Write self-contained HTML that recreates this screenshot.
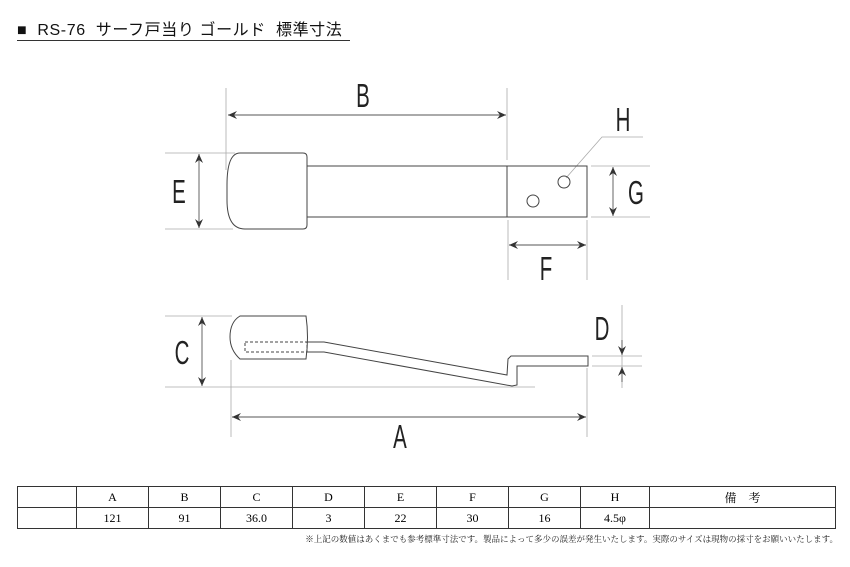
<!DOCTYPE html>
<html><head><meta charset="utf-8"><style>
body{margin:0;background:#fff;width:850px;height:567px;overflow:hidden;position:relative;font-family:"Liberation Sans","Noto Sans CJK JP",sans-serif}
.t{position:absolute;left:17px;top:22px;font-size:16px;color:#111;border-bottom:1px solid #333;width:333px;line-height:18px;letter-spacing:0.6px;white-space:nowrap}
table{position:absolute;left:17px;top:486px;border-collapse:collapse;font-family:"Liberation Serif","Noto Serif CJK SC",serif;font-size:12px}
td{border:1px solid #333;height:20px;padding:0;text-align:center}
.n{position:absolute;right:12px;top:533px;font-size:8.5px;font-family:"Noto Serif CJK SC",serif;color:#222}
</style></head><body>
<div class="t">■&nbsp; RS-76&nbsp; サーフ戸当り ゴールド&nbsp; 標準寸法</div>
<svg width="850" height="567" style="position:absolute;left:0;top:0">
<defs><marker id="a" markerWidth="10" markerHeight="8" refX="9" refY="4" orient="auto-start-reverse" markerUnits="userSpaceOnUse"><path d="M0,0 L9,4 L0,8 L3,4 Z" fill="#333"/></marker></defs>
<g stroke="#aaa" stroke-width="0.8" fill="none">
<line x1="226" y1="88" x2="226" y2="170"/><line x1="507" y1="88" x2="507" y2="160"/>
<line x1="165" y1="153" x2="235" y2="153"/><line x1="165" y1="229" x2="233" y2="229"/>
<line x1="591" y1="166" x2="650" y2="166"/><line x1="591" y1="217" x2="650" y2="217"/>
<line x1="508" y1="220" x2="508" y2="280"/><line x1="587" y1="220" x2="587" y2="280"/>
<polyline points="566,178 602,137 643,137"/>
<line x1="165" y1="316" x2="232" y2="316"/><line x1="165" y1="387" x2="535" y2="387"/>
<line x1="231" y1="360" x2="231" y2="437"/><line x1="587" y1="368" x2="587" y2="437"/>
<line x1="592" y1="356" x2="642" y2="356"/><line x1="592" y1="366" x2="642" y2="366"/>
<line x1="622" y1="305" x2="622" y2="388"/>
</g>
<g stroke="#555" stroke-width="0.9" fill="none" marker-start="url(#a)" marker-end="url(#a)">
<line x1="228" y1="115" x2="506" y2="115"/>
<line x1="199" y1="154" x2="199" y2="228"/>
<line x1="613" y1="167" x2="613" y2="216"/>
<line x1="509" y1="245" x2="586" y2="245"/>
<line x1="202" y1="317" x2="202" y2="386"/>
<line x1="232" y1="417" x2="586" y2="417"/>
</g>
<g stroke="#555" stroke-width="0.9" fill="none">
<line x1="622" y1="340" x2="622" y2="355" marker-end="url(#a)"/>
<line x1="622" y1="382" x2="622" y2="367" marker-end="url(#a)"/>
</g>
<g stroke="#444" stroke-width="1" fill="none">
<path d="M240,153 L303,153 Q307,153 307,157 L307,225 Q307,229 303,229 L245,229 Q227,229 227,200 L227,185 Q227,153 240,153 Z"/>
<rect x="307" y="166" width="200" height="51"/>
<rect x="507" y="166" width="80" height="51"/>
<circle cx="564" cy="182" r="6"/><circle cx="533" cy="201" r="6"/>
<path d="M240,316 L306,316 Q309,337 306,359 L240,359 Q230,350 230,337 Q230,322 240,316 Z"/>
<rect x="245" y="342" width="62" height="10" stroke-dasharray="3,2"/>
<polyline points="307,342 324,342 507,375 508,359 511,356 588,356 588,366 517,366 517,385 512,386 324,352 307,352"/>
</g>
<g font-family="Liberation Sans,sans-serif" font-size="33" fill="#222" text-anchor="middle">
<text transform="translate(363,107) scale(0.62,1)">B</text>
<text transform="translate(623,131) scale(0.62,1)">H</text>
<text transform="translate(179,203) scale(0.62,1)">E</text>
<text transform="translate(636,204) scale(0.62,1)">G</text>
<text transform="translate(546,280) scale(0.62,1)">F</text>
<text transform="translate(602,340) scale(0.62,1)">D</text>
<text transform="translate(182,364) scale(0.62,1)">C</text>
<text transform="translate(400,448) scale(0.62,1)">A</text>
</g>
</svg>
<table><tr><td style="width:58px"></td><td style="width:71px">A</td><td style="width:71px">B</td><td style="width:71px">C</td><td style="width:71px">D</td><td style="width:71px">E</td><td style="width:71px">F</td><td style="width:71px">G</td><td style="width:68px">H</td><td style="width:185px">備　考</td></tr>
<tr><td></td><td>121</td><td>91</td><td>36.0</td><td>3</td><td>22</td><td>30</td><td>16</td><td>4.5φ</td><td></td></tr></table>
<div class="n">※上記の数値はあくまでも参考標準寸法です。製品によって多少の誤差が発生いたします。実際のサイズは現物の採寸をお願いいたします。</div>
</body></html>
